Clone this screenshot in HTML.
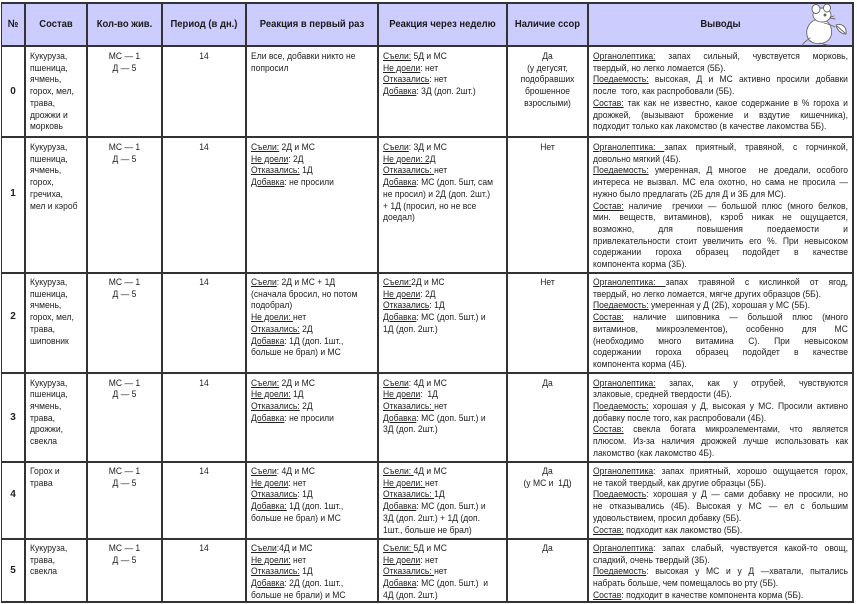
<!DOCTYPE html>
<html><head><meta charset="utf-8">
<style>
html,body{margin:0;padding:0;background:#fff;}
body{width:857px;height:604px;position:relative;overflow:hidden;font-family:"Liberation Sans","Noto Sans CJK SC",sans-serif;color:#222;}
.hdr{position:absolute;left:1px;top:3px;width:852px;height:43px;background:#ccccff;}
.v{position:absolute;top:3px;height:600px;width:1.6px;background:#333;}
.h{position:absolute;left:0.5px;width:853px;height:1.6px;background:#333;}
.c{position:absolute;transform:scaleX(0.9);transform-origin:0 0;font-size:9.5px;line-height:11.7px;}
.c div{white-space:nowrap;}
.c div.j{white-space:normal;text-align:justify;text-align-last:justify;}
.ctr{text-align:center;}
.hh{position:absolute;top:17px;transform:scaleX(0.9);transform-origin:0 0;font-size:10.5px;line-height:14px;font-weight:bold;text-align:center;white-space:nowrap;color:#1a1a1a;}
.n{position:absolute;left:1px;width:24px;text-align:center;font-size:10px;font-weight:bold;line-height:12px;}
u{text-decoration:underline;text-underline-offset:1px;}
</style></head><body>
<div class="hdr"></div>

<!-- grid -->
<div class="v" style="left:0.5px"></div>
<div class="v" style="left:24.2px"></div>
<div class="v" style="left:86.2px"></div>
<div class="v" style="left:161.2px"></div>
<div class="v" style="left:245.2px"></div>
<div class="v" style="left:377.2px"></div>
<div class="v" style="left:506.2px"></div>
<div class="v" style="left:587.2px"></div>
<div class="v" style="left:852.2px"></div>
<div class="h" style="top:2.2px"></div>
<div class="h" style="top:45.2px"></div>
<div class="h" style="top:136.2px"></div>
<div class="h" style="top:272.2px"></div>
<div class="h" style="top:372.2px"></div>
<div class="h" style="top:461.2px"></div>
<div class="h" style="top:538.2px"></div>
<div class="h" style="top:601.2px"></div>

<!-- header -->
<div class="hh" style="left:1px;width:26.7px">№</div>
<div class="hh" style="left:25px;width:68.9px">Состав</div>
<div class="hh" style="left:87px;width:83.3px">Кол-во жив.</div>
<div class="hh" style="left:162px;width:93.3px">Период (в дн.)</div>
<div class="hh" style="left:246px;width:146.7px">Реакция в первый раз</div>
<div class="hh" style="left:378px;width:143.3px">Реакция через неделю</div>
<div class="hh" style="left:507px;width:90px">Наличие ссор</div>
<div class="hh" style="left:588px;width:294.4px">Выводы</div>

<!-- mascot -->
<svg style="position:absolute;left:800px;top:3px" width="52" height="43" viewBox="0 0 52 43">
<g fill="#fff" stroke="#666" stroke-width="0.9" stroke-linecap="round" stroke-linejoin="round">
<path d="M14 40 C6 38 5 28 9 22 C12 17 18 15 24 17 C30 19 33 26 31 33 C29 39 22 42 14 40 Z"/>
<path d="M20 40 C24 41 27 43 30 42" fill="none"/>
<ellipse cx="22" cy="12" rx="9" ry="7"/>
<ellipse cx="16" cy="6" rx="4" ry="4.5"/>
<ellipse cx="27" cy="5" rx="3.5" ry="4"/>
<circle cx="25" cy="12" r="1" fill="#555"/>
<path d="M30 14 L34 13 M30 15 L35 16" fill="none"/>
<path d="M24 20 C28 21 32 22 35 24" fill="none"/>
<path d="M36 22 C42 20 47 24 46 31 C41 31 37 27 36 22 Z"/>
<path d="M37 23 L45 30" fill="none"/>
<path d="M10 35 C6 38 3 40 2 43" fill="none"/>
</g>
</svg>

<!-- numbers -->
<div class="n" style="top:86px">0</div>
<div class="n" style="top:188px">1</div>
<div class="n" style="top:311px">2</div>
<div class="n" style="top:412px">3</div>
<div class="n" style="top:488.5px">4</div>
<div class="n" style="top:565px">5</div>

<!-- Состав -->
<div class="c" style="left:30px;top:51px;width:60px"><div>Кукуруза,</div><div>пшеница,</div><div>ячмень,</div><div>горох, мел,</div><div>трава,</div><div>дрожжи и</div><div>морковь</div></div>
<div class="c" style="left:30px;top:142px;width:60px"><div>Кукуруза,</div><div>пшеница,</div><div>ячмень,</div><div>горох,</div><div>гречиха,</div><div>мел и кэроб</div></div>
<div class="c" style="left:30px;top:277px;width:60px"><div>Кукуруза,</div><div>пшеница,</div><div>ячмень,</div><div>горох, мел,</div><div>трава,</div><div>шиповник</div></div>
<div class="c" style="left:30px;top:377.5px;width:60px"><div>Кукуруза,</div><div>пшеница,</div><div>ячмень,</div><div>трава,</div><div>дрожжи,</div><div>свекла</div></div>
<div class="c" style="left:30px;top:466px;width:60px"><div>Горох и</div><div>трава</div></div>
<div class="c" style="left:30px;top:543px;width:60px"><div>Кукуруза,</div><div>трава,</div><div>свекла</div></div>

<!-- Кол-во жив. -->
<div class="c ctr" style="left:91px;top:51px;width:74.4px"><div>МС — 1</div><div>Д — 5</div></div>
<div class="c ctr" style="left:91px;top:142px;width:74.4px"><div>МС — 1</div><div>Д — 5</div></div>
<div class="c ctr" style="left:91px;top:277px;width:74.4px"><div>МС — 1</div><div>Д — 5</div></div>
<div class="c ctr" style="left:91px;top:377.5px;width:74.4px"><div>МС — 1</div><div>Д — 5</div></div>
<div class="c ctr" style="left:91px;top:466px;width:74.4px"><div>МС — 1</div><div>Д — 5</div></div>
<div class="c ctr" style="left:91px;top:543px;width:74.4px"><div>МС — 1</div><div>Д — 5</div></div>

<!-- Период -->
<div class="c ctr" style="left:166px;top:51px;width:84.4px"><div>14</div></div>
<div class="c ctr" style="left:166px;top:142px;width:84.4px"><div>14</div></div>
<div class="c ctr" style="left:166px;top:277px;width:84.4px"><div>14</div></div>
<div class="c ctr" style="left:166px;top:377.5px;width:84.4px"><div>14</div></div>
<div class="c ctr" style="left:166px;top:466px;width:84.4px"><div>14</div></div>
<div class="c ctr" style="left:166px;top:543px;width:84.4px"><div>14</div></div>

<!-- Реакция в первый раз -->
<div class="c" style="left:251px;top:51px;width:136.7px"><div>Ели все, добавки никто не</div><div>попросил</div></div>
<div class="c" style="left:251px;top:142px;width:136.7px"><div><u>Съели:</u> 2Д и МС</div><div><u>Не доели</u>: 2Д</div><div><u>Отказались:</u> 1Д</div><div><u>Добавка</u>: не просили</div></div>
<div class="c" style="left:251px;top:277px;width:136.7px"><div><u>Съели</u>: 2Д и МС + 1Д</div><div>(сначала бросил, но потом</div><div>подобрал)</div><div><u>Не доели: </u>нет</div><div><u>Отказались:</u> 2Д</div><div><u>Добавка</u>: 1Д (доп. 1шт.,</div><div>больше не брал) и МС</div></div>
<div class="c" style="left:251px;top:377.5px;width:136.7px"><div><u>Съели:</u> 2Д и МС</div><div><u>Не доели:</u> 1Д</div><div><u>Отказались:</u> 2Д</div><div><u>Добавка</u>: не просили</div></div>
<div class="c" style="left:251px;top:466px;width:136.7px"><div><u>Съели</u>: 4Д и МС</div><div><u>Не доели</u>: нет</div><div><u>Отказались</u>: 1Д</div><div><u>Добавка:</u> 1Д (доп. 1шт.,</div><div>больше не брал) и МС</div></div>
<div class="c" style="left:251px;top:543px;width:136.7px"><div><u>Съели</u>:4Д и МС</div><div><u>Не доели:</u> нет</div><div><u>Отказались:</u> 1Д</div><div><u>Добавка</u>: 2Д (доп. 1шт.,</div><div>больше не брали) и МС</div></div>

<!-- Реакция через неделю -->
<div class="c" style="left:383px;top:51px;width:133.3px"><div><u>Съели:</u> 5Д и МС</div><div><u>Не доели</u>: нет</div><div><u>Отказались</u>: нет</div><div><u>Добавка</u>: 3Д (доп. 2шт.)</div></div>
<div class="c" style="left:383px;top:142px;width:133.3px"><div><u>Съели</u>: 3Д и МС</div><div><u>Не доели: 2Д</u></div><div><u>Отказались: </u>нет</div><div><u>Добавка</u>: МС (доп. 5шт, сам</div><div>не просил) и 2Д (доп. 2шт.)</div><div>+ 1Д (просил, но не все</div><div>доедал)</div></div>
<div class="c" style="left:383px;top:277px;width:133.3px"><div><u>Съели:</u>2Д и МС</div><div><u>Не доели</u>: 2Д</div><div><u>Отказались</u>: 1Д</div><div><u>Добавка</u>: МС (доп. 5шт.) и</div><div>1Д (доп. 2шт.)</div></div>
<div class="c" style="left:383px;top:377.5px;width:133.3px"><div><u>Съели</u>: 4Д и МС</div><div><u>Не доели</u>:&nbsp; 1Д</div><div><u>Отказались: </u>нет</div><div><u>Добавка</u>: МС (доп. 5шт.) и</div><div>3Д (доп. 2шт.)</div></div>
<div class="c" style="left:383px;top:466px;width:133.3px"><div><u>Съели: </u>4Д и МС</div><div><u>Не доели: </u>нет</div><div><u>Отказались: </u>1Д</div><div><u>Добавка</u>: МС (доп. 5шт.) и</div><div>3Д (доп. 2шт.) + 1Д (доп.</div><div>1шт., больше не брал)</div></div>
<div class="c" style="left:383px;top:543px;width:133.3px"><div><u>Съели: </u>5Д и МС</div><div><u>Не доели</u>: нет</div><div><u>Отказались: </u>нет</div><div><u>Добавка</u>: МС (доп. 5шт.)&nbsp; и</div><div>4Д (доп. 2шт.)</div></div>

<!-- Наличие ссор -->
<div class="c ctr" style="left:511px;top:51px;width:81.1px"><div>Да</div><div>(у дегусят,</div><div>подобравших</div><div>брошенное</div><div>взрослыми)</div></div>
<div class="c ctr" style="left:511px;top:142px;width:81.1px"><div>Нет</div></div>
<div class="c ctr" style="left:511px;top:277px;width:81.1px"><div>Нет</div></div>
<div class="c ctr" style="left:511px;top:377.5px;width:81.1px"><div>Да</div></div>
<div class="c ctr" style="left:511px;top:466px;width:81.1px"><div>Да</div><div>(у МС и&nbsp; 1Д)</div></div>
<div class="c ctr" style="left:511px;top:543px;width:81.1px"><div>Да</div></div>

<!-- Выводы -->
<div class="c" style="left:593px;top:51px;width:283.3px">
<div class="j"><u>Органолептика:</u> запах сильный, чувствуется морковь,</div>
<div>твердый, но легко ломается (5Б).</div>
<div class="j"><u>Поедаемость:</u> высокая, Д и МС активно просили добавки</div>
<div>после&nbsp; того, как распробовали (5Б).</div>
<div class="j"><u>Состав:</u> так как не известно, какое содержание в % гороха и</div>
<div class="j">дрожжей, (вызывают брожение и вздутие кишечника),</div>
<div>подходит только как лакомство (в качестве лакомства 5Б).</div>
</div>
<div class="c" style="left:593px;top:142px;width:283.3px">
<div class="j"><u>Органолептика: </u> запах приятный, травяной, с горчинкой,</div>
<div>довольно мягкий (4Б).</div>
<div class="j"><u>Поедаемость:</u> умеренная, Д многое&nbsp; не доедали, особого</div>
<div class="j">интереса не вызвал. МС ела охотно, но сама не просила —</div>
<div>нужно было предлагать (2Б для Д и 3Б для МС).</div>
<div class="j"><u>Состав:</u> наличие&nbsp; гречихи — большой плюс (много белков,</div>
<div class="j">мин. веществ, витаминов), кэроб никак не ощущается,</div>
<div class="j">возможно, для повышения поедаемости и</div>
<div class="j">привлекательности стоит увеличить его %. При невысоком</div>
<div class="j">содержании гороха образец подойдет в качестве</div>
<div>компонента корма (3Б).</div>
</div>
<div class="c" style="left:593px;top:277px;width:283.3px">
<div class="j"><u>Органолептика: </u> запах травяной с кислинкой от ягод,</div>
<div>твердый, но легко ломается, мягче других образцов (5Б).</div>
<div><u>Поедаемость:</u> умеренная у Д (2Б), хорошая у МС (5Б).</div>
<div class="j"><u>Состав:</u> наличие шиповника — большой плюс (много</div>
<div class="j">витаминов, микроэлементов), особенно для МС</div>
<div class="j">(необходимо много витамина С). При невысоком</div>
<div class="j">содержании гороха образец подойдет в качестве</div>
<div>компонента корма (4Б).</div>
</div>
<div class="c" style="left:593px;top:377.5px;width:283.3px">
<div class="j"><u>Органолептика:</u> запах, как у отрубей, чувствуются</div>
<div>злаковые, средней твердости (4Б).</div>
<div class="j"><u>Поедаемость:</u> хорошая у Д, высокая у МС. Просили активно</div>
<div>добавку после того, как распробовали (4Б).</div>
<div class="j"><u>Состав:</u> свекла богата микроэлементами, что является</div>
<div class="j">плюсом. Из-за наличия дрожжей лучше использовать как</div>
<div>лакомство (как лакомство 4Б).</div>
</div>
<div class="c" style="left:593px;top:466px;width:283.3px">
<div class="j"><u>Органолептика</u>: запах приятный, хорошо ощущается горох,</div>
<div>не такой твердый, как другие образцы (5Б).</div>
<div class="j"><u>Поедаемость</u>: хорошая у Д — сами добавку не просили, но</div>
<div class="j">не отказывались (4Б). Высокая у МС — ел с большим</div>
<div>удовольствием, просил добавку (5Б).</div>
<div><u>Состав:</u> подходит как лакомство (5Б).</div>
</div>
<div class="c" style="left:593px;top:543px;width:283.3px">
<div class="j"><u>Органолептика</u>: запах слабый, чувствуется какой-то овощ,</div>
<div>сладкий, очень твердый (3Б).</div>
<div class="j"><u>Поедаемость</u>: высокая у МС и у Д —хватали, пытались</div>
<div>набрать больше, чем помещалось во рту (5Б).</div>
<div><u>Состав</u>: подходит в качестве компонента корма (5Б).</div>
</div>
</body></html>
